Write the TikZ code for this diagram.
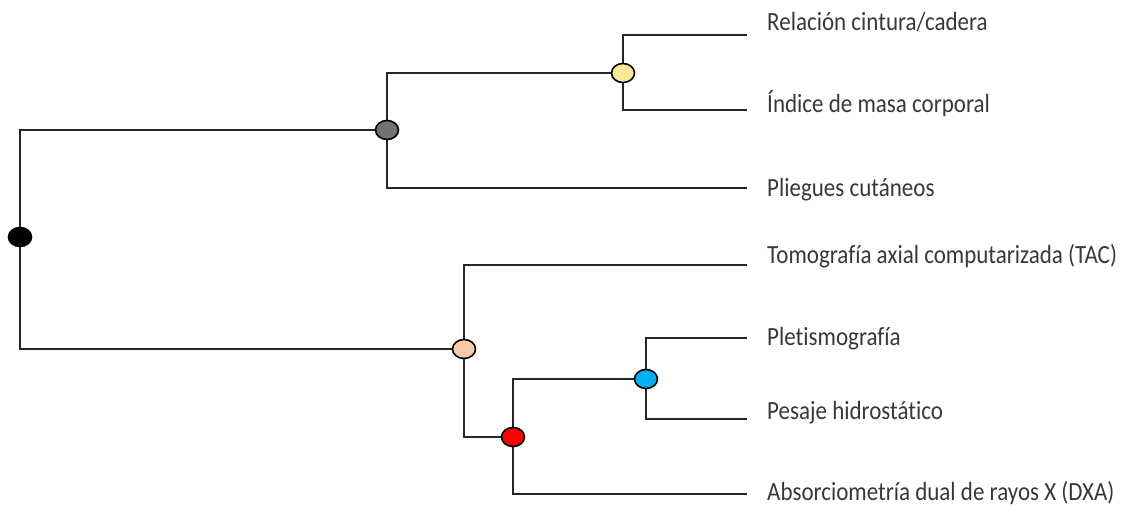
\documentclass[tikz,border=0pt]{standalone}
\usepackage{fontspec}
\usepackage{graphicx}
\setmainfont{Carlito}[Ligatures={NoCommon}]
\usetikzlibrary{shapes.geometric}
\newcommand{\leaftext}[1]{\scalebox{1}[1.14]{#1}}
\begin{document}
\begin{tikzpicture}[x=1pt,y=-1pt,
  branch/.style={draw=black!85, line width=2.5pt, line join=miter},
  junction/.style={ellipse, draw=black, line width=1.6pt, minimum width=23pt, minimum height=19pt, inner sep=0pt},
  leaf/.style={anchor=base west, inner sep=0pt, font=\fontsize{23}{27}\selectfont, text=black!78}
]
\useasboundingbox (0,0) rectangle (1132,506);
% leaf line ends
\coordinate (e1) at (747,35);
\coordinate (e2) at (747,110);
\coordinate (e3) at (747,188);
\coordinate (e4) at (747,265);
\coordinate (e5) at (747,338);
\coordinate (e6) at (747,419);
\coordinate (e7) at (747,494);
% inner junction positions
\coordinate (pr) at (20,237);
\coordinate (pg) at (387,130);
\coordinate (py) at (623,73);
\coordinate (pp) at (464,349);
\coordinate (pd) at (513,437);
\coordinate (pb) at (646,379);
% branches
\draw[branch] (pr) |- (pp);
\draw[branch] (pr) |- (pg);
\draw[branch] (pg) |- (py);
\draw[branch] (pg) |- (e3);
\draw[branch] (py) |- (e1);
\draw[branch] (py) |- (e2);
\draw[branch] (pp) |- (e4);
\draw[branch] (pp) |- (pd);
\draw[branch] (pd) |- (pb);
\draw[branch] (pd) |- (e7);
\draw[branch] (pb) |- (e5);
\draw[branch] (pb) |- (e6);
% junction markers
\node[junction, fill=black] (root) at (pr) {};
\node[junction, fill={rgb,255:red,118;green,113;blue,113}] (gray) at (pg) {};
\node[junction, fill={rgb,255:red,255;green,230;blue,153}] (yellow) at (py) {};
\node[junction, fill={rgb,255:red,248;green,203;blue,173}] (peach) at (pp) {};
\node[junction, fill={rgb,255:red,255;green,0;blue,0}] (red) at (pd) {};
\node[junction, fill={rgb,255:red,0;green,176;blue,240}] (blue) at (pb) {};
% leaf labels
\node[leaf] (l1) at (767,30) {\leaftext{Relación cintura/cadera}};
\node[leaf] (l2) at (767,112) {\leaftext{Índice de masa corporal}};
\node[leaf] (l3) at (767,196) {\leaftext{Pliegues cutáneos}};
\node[leaf] (l4) at (767,263) {\leaftext{Tomografía axial computarizada (TAC)}};
\node[leaf] (l5) at (767,345) {\leaftext{Pletismografía}};
\node[leaf] (l6) at (767,419) {\leaftext{Pesaje hidrostático}};
\node[leaf] (l7) at (767,500) {\leaftext{Absorciometría dual de rayos X (DXA)}};
\end{tikzpicture}
\end{document}
